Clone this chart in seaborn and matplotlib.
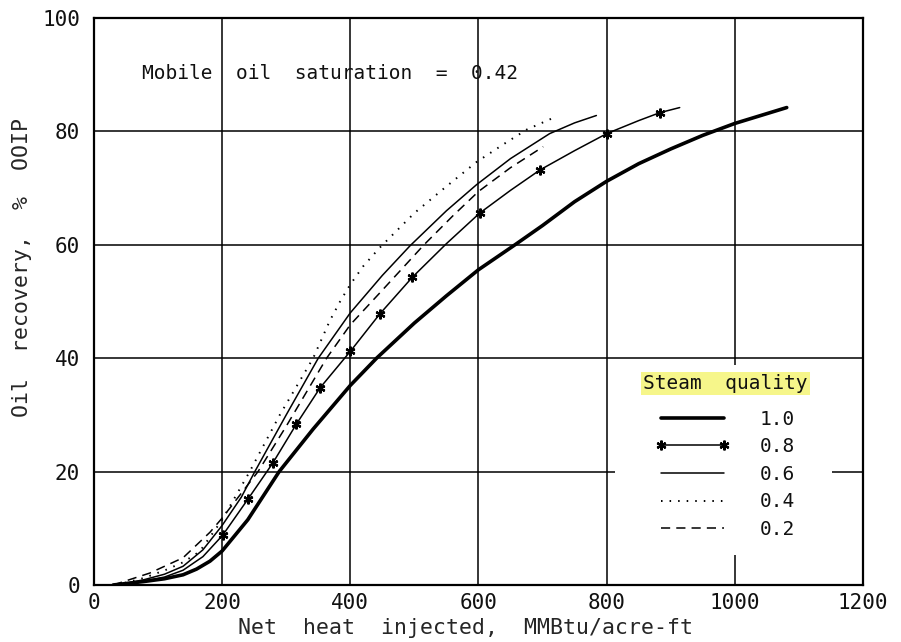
import numpy as np
import pandas as pd
import matplotlib
matplotlib.use("Agg")
import matplotlib.pyplot as plt
from matplotlib.lines import Line2D
from matplotlib.patches import Rectangle
import seaborn as sns

# Net heat injected (MMBtu/acre-ft) and oil recovery (% OOIP) per steam quality
heat_q10 = [30, 77, 110, 139, 160, 181, 200, 240, 289, 342, 400, 441, 500, 550,
            600, 657, 700, 750, 800, 850, 900, 950, 1000, 1081]
rec_q10 = [0, 0.6, 1.1, 1.8, 2.8, 4.2, 6.0, 11.5, 20.0, 27.5, 35.2, 40.0, 46.2,
           51.0, 55.6, 60.0, 63.4, 67.6, 71.2, 74.3, 76.9, 79.3, 81.4, 84.2]

heat_q08 = [40, 77, 110, 139, 170, 201, 240, 279, 316, 353, 400, 446, 497, 550,
            602, 650, 696, 750, 800, 850, 883, 914]
rec_q08 = [0, 0.7, 1.4, 2.6, 5.0, 8.8, 15.1, 21.5, 28.4, 34.8, 41.2, 47.8, 54.3,
           60.2, 65.6, 69.6, 73.2, 76.6, 79.6, 81.9, 83.3, 84.2]
marked_q08 = [201, 240, 279, 316, 353, 400, 446, 497, 602, 696, 800, 883]

heat_q06 = [35, 77, 110, 139, 170, 200, 230, 251, 300, 350, 400, 450, 493, 550,
            597, 650, 711, 750, 784]
rec_q06 = [0, 0.9, 1.9, 3.3, 6.2, 10.5, 15.5, 20.0, 30.0, 40.0, 48.0, 54.6, 59.8,
           66.0, 70.6, 75.2, 79.6, 81.5, 82.8]

heat_q04 = [35, 77, 113, 139, 165, 200, 243, 290, 342, 368, 385, 400, 420, 446,
            500, 550, 597, 640, 675, 719]
rec_q04 = [0, 1.2, 2.7, 4.0, 5.9, 11.5, 20.0, 30.0, 40.0, 46.6, 50.2, 53.0, 56.2,
           59.5, 65.6, 70.3, 74.6, 77.8, 80.3, 82.5]

heat_q02 = [30, 87, 139, 181, 200, 256, 300, 363, 400, 450, 515, 560, 600, 650, 701]
rec_q02 = [0, 2.1, 4.8, 9.3, 11.8, 20.0, 28.0, 40.0, 45.9, 52.0, 60.0, 65.1, 69.4,
           73.6, 77.3]

quality_labels = ["1.0", "0.8", "0.6", "0.4", "0.2"]
x_ticks = [0, 200, 400, 600, 800, 1000, 1200]
y_ticks = [0, 20, 40, 60, 80, 100]

series = {
    "1.0": (heat_q10, rec_q10),
    "0.8": (heat_q08, rec_q08),
    "0.6": (heat_q06, rec_q06),
    "0.4": (heat_q04, rec_q04),
    "0.2": (heat_q02, rec_q02),
}
df = pd.concat(
    [pd.DataFrame({"heat": h, "recovery": r, "quality": q}) for q, (h, r) in series.items()],
    ignore_index=True,
)

styles = {
    "1.0": dict(lw=2.6, ls="-"),
    "0.8": dict(lw=1.1, ls="-"),
    "0.6": dict(lw=1.1, ls="-"),
    "0.4": dict(lw=1.4, ls=(0, (0.8, 3.6))),
    "0.2": dict(lw=1.1, ls=(0, (6, 4))),
}
star = (6, 2, 0)

sns.set_theme(style="white")
mono = ["DejaVu Sans Mono", "DejaVu Sans"]
plt.rcParams["font.family"] = mono
plt.rcParams["text.color"] = "#111111"

fig = plt.figure(figsize=(9.01, 6.42), dpi=100)
ax = fig.add_axes([0.1043, 0.0888, 0.8535, 0.8832])

for q in quality_labels:
    sub = df[df["quality"] == q]
    sns.lineplot(data=sub, x="heat", y="recovery", ax=ax, color="black",
                 sort=False, estimator=None, legend=False,
                 linewidth=styles[q]["lw"], linestyle=styles[q]["ls"])

# star markers on the 0.8 curve
q08 = df[(df["quality"] == "0.8") & (df["heat"].isin(marked_q08))]
ax.plot(q08["heat"], q08["recovery"], linestyle="none", marker=star,
        markersize=7, markeredgewidth=1.6, color="black", zorder=3)

ax.set_xlim(0, 1200)
ax.set_ylim(0, 100)
ax.set_xticks(x_ticks)
ax.set_yticks(y_ticks)
ax.grid(True, color="black", linewidth=1.1)
ax.set_axisbelow(True)
for sp in ax.spines.values():
    sp.set_color("black")
    sp.set_linewidth(1.6)
ax.tick_params(length=0, labelsize=15, colors="#111111")
ax.tick_params(axis="y", pad=10)
ax.tick_params(axis="x", pad=6)

ax.set_xlabel("Net  heat  injected,  MMBtu/acre-ft", fontsize=15.5)
ax.set_ylabel("Oil  recovery,  %  OOIP", fontsize=15.5)
ax.xaxis.set_label_coords(0.483, -0.058)
ax.yaxis.set_label_coords(-0.08, 0.56)

ax.text(75, 90.2, "Mobile  oil  saturation  =  0.42", fontsize=14,
        va="center", ha="left")

# white panel behind the key
ax.add_patch(Rectangle((0.677, 0.053), 0.283, 0.335, transform=ax.transAxes,
                       facecolor="white", edgecolor="none", zorder=1))

handles = []
for q in quality_labels:
    if q == "0.8":
        h = Line2D([0], [0], color="black", lw=styles[q]["lw"], ls=styles[q]["ls"],
                   marker=star, markersize=7, markeredgewidth=1.6)
    else:
        h = Line2D([0], [0], color="black", lw=styles[q]["lw"], ls=styles[q]["ls"])
    handles.append(h)

leg = ax.legend(handles, quality_labels, title="Steam  quality", loc="upper left",
                bbox_to_anchor=(0.714, 0.372), frameon=False, fontsize=14,
                title_fontsize=14, numpoints=2, handlelength=3.8,
                handletextpad=1.55, labelspacing=0.44, borderpad=0,
                borderaxespad=0)
leg.get_title().set_bbox(dict(facecolor="#f6f68a", edgecolor="none", pad=1.5))
leg._legend_box.sep = 12

fig.savefig("out.png", dpi=100)
